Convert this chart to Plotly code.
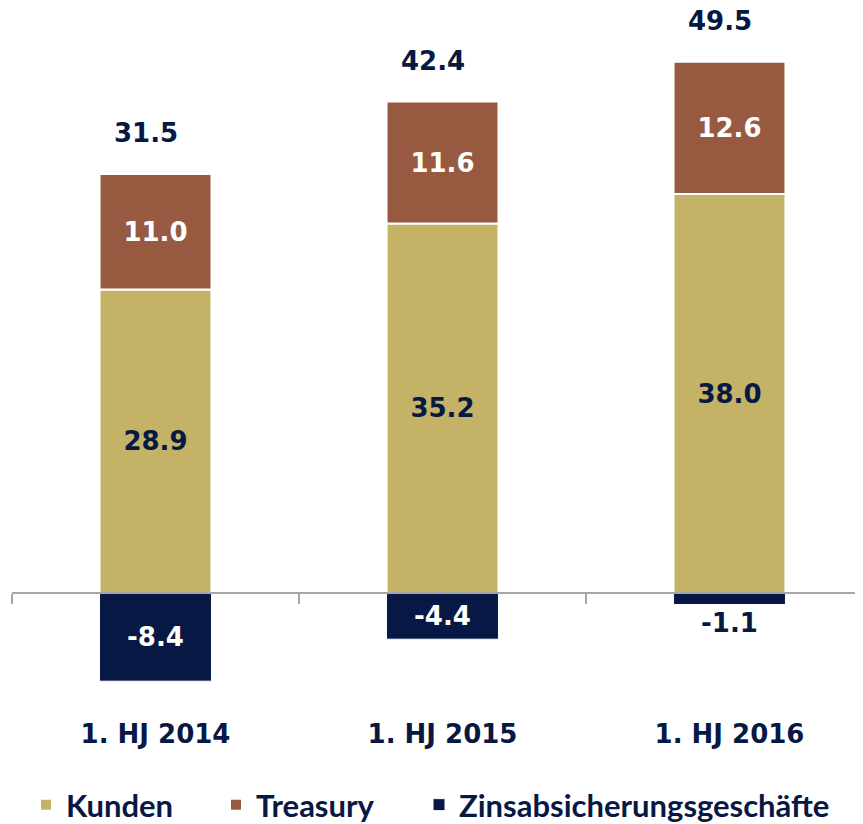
import plotly.graph_objects as go

categories = ["1. HJ 2014", "1. HJ 2015", "1. HJ 2016"]
kunden = [28.9, 35.2, 38.0]
treasury = [11.0, 11.6, 12.6]
zins = [-8.4, -4.4, -1.1]
totals = [31.5, 42.4, 49.5]

GOLD = "#c4b266"
BROWN = "#975a41"
NAVY = "#061843"
GRAY = "#a6a6a6"
NUMFONT = "DejaVu Sans"
LEGFONT = "Lato"

# page body has an 8px margin: figure is drawn 8px right/down
W, H = 855, 816
L, R, T, B = 4, 0, 0, 124
PW, PH = W - L - R, H - T - B
PXU = 10.5          # pixels per unit
ZERO_Y = 585        # zero line in figure pixels
ymax = ZERO_Y / PXU
ymin = -(PH - ZERO_Y) / PXU
zero_pos = (0 - ymin) / (ymax - ymin)
bar_w = 0.39
num_font = dict(family=NUMFONT, size=26, weight="bold")

fig = go.Figure()
fig.add_trace(go.Bar(
    x=categories, y=kunden, name="Kunden", width=bar_w, legend="legend",
    marker=dict(color=GOLD, line=dict(color="white", width=2)),
    texttemplate="%{y:.1f}", textposition="inside", insidetextanchor="middle",
    textfont=dict(color=NAVY, **num_font),
    constraintext="none", hoverinfo="skip",
))
fig.add_trace(go.Bar(
    x=categories, y=treasury, name="Treasury", width=bar_w, legend="legend2",
    marker=dict(color=BROWN, line=dict(color="white", width=2)),
    texttemplate="%{y:.1f}", textposition="inside", insidetextanchor="middle",
    textfont=dict(color="white", **num_font),
    constraintext="none", hoverinfo="skip",
))
fig.add_trace(go.Bar(
    x=categories, y=zins, name="Zinsabsicherungsgeschäfte", width=bar_w, legend="legend3",
    marker=dict(color=NAVY, line=dict(color="white", width=1)),
    texttemplate="%{y:.1f}", textposition="auto", insidetextanchor="middle",
    insidetextfont=dict(color="white", **num_font),
    outsidetextfont=dict(color=NAVY, **num_font),
    constraintext="none", hoverinfo="skip",
))
# helper trace so the zero-line axis has categories
fig.add_trace(go.Scatter(
    x=categories, y=[0, 0, 0], xaxis="x2", mode="markers",
    marker=dict(opacity=0), showlegend=False, hoverinfo="skip",
))

for c, k, t, tot in zip(categories, kunden, treasury, totals):
    fig.add_annotation(
        x=c, y=k + t, text=f"{tot:.1f}", showarrow=False, yshift=41, xshift=-10,
        yanchor="middle", xanchor="center",
        font=dict(color=NAVY, **num_font),
    )

leg_common = dict(
    orientation="h", xanchor="left", yanchor="middle",
    y=(H - B - (805 - 8)) / PH,
    font=dict(family=LEGFONT, size=31, color=NAVY, weight="bold"),
    bgcolor="rgba(0,0,0,0)",
)

def lx(page_px):
    return (page_px - 8 - L) / PW

xr = [-0.5, -0.5 + PW / 287]
fig.update_layout(
    width=W, height=H,
    margin=dict(l=L, r=R, t=T, b=B, autoexpand=False),
    plot_bgcolor="white", paper_bgcolor="white",
    barmode="relative",
    showlegend=True,
    legend=dict(x=lx(26), **leg_common),
    legend2=dict(x=lx(216), **leg_common),
    legend3=dict(x=lx(419), **leg_common),
    xaxis=dict(
        range=xr, showline=False, ticks="", showgrid=False, zeroline=False,
        tickfont=dict(color=NAVY, **num_font),
        ticklabelstandoff=16,
    ),
    xaxis2=dict(
        range=xr, overlaying="x", anchor="free", position=zero_pos,
        side="bottom", showline=True, linecolor=GRAY, linewidth=2,
        ticks="outside", tickson="boundaries", ticklen=10, tickwidth=2,
        tickcolor=GRAY, showticklabels=False, showgrid=False,
        type="category", categoryarray=categories, categoryorder="array",
    ),
    yaxis=dict(range=[ymin, ymax], visible=False, showgrid=False, zeroline=False),
)

fig.write_html("out.html")
